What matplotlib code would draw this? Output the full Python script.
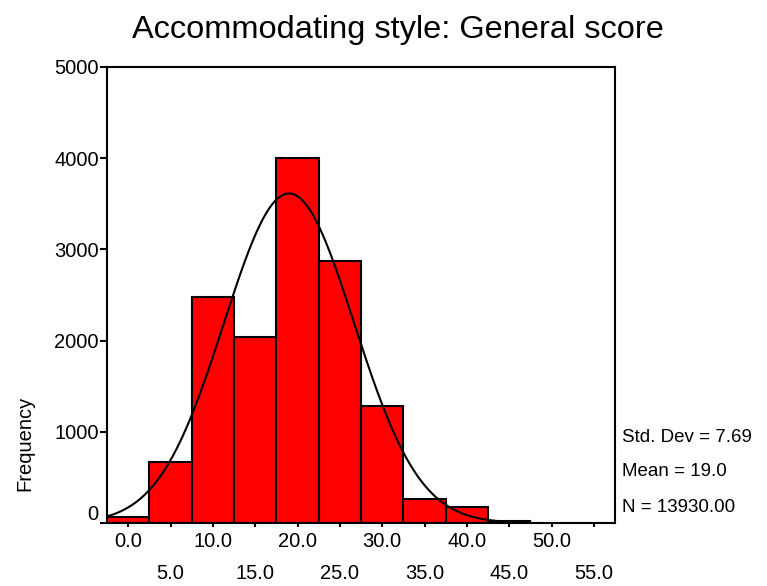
import numpy as np
import matplotlib
matplotlib.use("Agg")
import matplotlib.pyplot as plt
import matplotlib.transforms as mtransforms

plt.rcParams["font.family"] = ["Liberation Sans", "DejaVu Sans"]

# histogram bins (midpoints) and counts
bin_centers = [0, 5, 10, 15, 20, 25, 30, 35, 40, 45]
counts = [65, 674, 2480, 2040, 4000, 2875, 1283, 261, 174, 22]
bin_width = 5

std_dev = 7.69
mean = 19.0
n_total = 13930

title = "Accommodating style: General score"
y_ticks = [0, 1000, 2000, 3000, 4000, 5000]
x_major = [0, 10, 20, 30, 40, 50]
x_minor = [5, 15, 25, 35, 45, 55]

fig = plt.figure(figsize=(7.67, 5.86), dpi=100)
ax = fig.add_axes([107 / 767, 1 - 523 / 586, (615 - 107) / 767, (523 - 67) / 586])

ax.bar(bin_centers, counts, width=bin_width, color="#ff0000",
       edgecolor="black", linewidth=1.5, zorder=2)

# fitted normal curve from the reported statistics
xs = np.linspace(-2.5, 47.5, 400)
ys = n_total * bin_width / (std_dev * np.sqrt(2 * np.pi)) * np.exp(-0.5 * ((xs - mean) / std_dev) ** 2)
ax.plot(xs, ys, color="black", linewidth=1.5, zorder=3)

ax.set_xlim(-2.5, 57.5)
ax.set_ylim(0, 5000)
ax.set_yticks(y_ticks)
ax.set_yticklabels([str(v) for v in y_ticks])
ax.set_xticks(x_major)
ax.set_xticklabels([f"{v:.1f}" for v in x_major])
ax.set_xticks(x_minor, minor=True)
ax.set_xticklabels([f"{v:.1f}" for v in x_minor], minor=True)

for s in ax.spines.values():
    s.set_linewidth(1.5)
ax.tick_params(axis="y", direction="out", length=5, width=1.5, labelsize=14.5, pad=1)
ax.tick_params(axis="x", which="both", direction="out", length=3, width=1.5, labelsize=14.5)
ax.tick_params(axis="x", which="major", pad=3.6)
ax.tick_params(axis="x", which="minor", pad=26.6)

# the "0" label sits a little above its tick
lab0 = ax.get_yticklabels()[0]
lab0.set_transform(lab0.get_transform() + mtransforms.ScaledTranslation(0, 10 / 100, fig.dpi_scale_trans))

fig.text(398 / 767, 1 - 30 / 586, title, ha="center", va="center", fontsize=23.4)
fig.text(25 / 767, 1 - 443 / 586, "Frequency", rotation=90, ha="center", va="center", fontsize=14.5)

stats = [f"Std. Dev = {std_dev:.2f}", f"Mean = {mean:.1f}", f"N = {n_total:.2f}"]
for i, line in enumerate(stats):
    fig.text(622 / 767, 1 - (437 + 35 * i) / 586, line, ha="left", va="center", fontsize=13.5)

fig.savefig("out.png", dpi=100)
